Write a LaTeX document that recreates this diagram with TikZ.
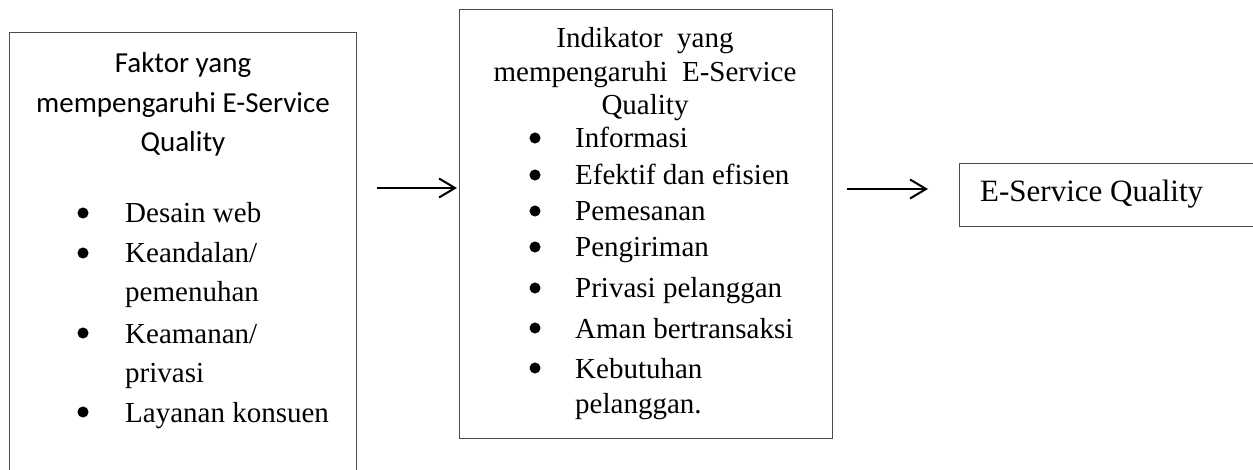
\documentclass[tikz,border=0pt]{standalone}
\usepackage{fontspec}
\setmainfont{Liberation Serif}
\newfontfamily\calibri{Carlito}
\usetikzlibrary{arrows.meta}

\tikzset{
  box/.style={draw=black!70, line width=1.3pt, anchor=north west, inner sep=0pt},
  line/.style={font=\fontsize{29}{34}\selectfont, anchor=base west, inner sep=0pt},
  titel/.style={font=\calibri\fontsize{29}{40}\selectfont, anchor=base, inner sep=0pt},
  kop/.style={font=\fontsize{29}{34}\selectfont, anchor=base, inner sep=0pt},
  dot/.style={circle, draw=black, fill=black, line width=1pt, inner sep=0pt, minimum size=10pt},
  arr/.style={line width=2pt, -{Straight Barb[length=16pt,width=19pt]}}
}

\begin{document}
\begin{tikzpicture}[x=1pt,y=-1pt]
\useasboundingbox (0,0) rectangle (1253,470);
\clip (0,0) rectangle (1253,470);

% boxes
\node[box, minimum width=347pt, minimum height=470pt] (faktor) at (9,32) {};
\node[box, minimum width=373pt, minimum height=429pt] (indikator) at (459,9) {};
\node[box, minimum width=320pt, minimum height=63pt] (eservice) at (959,163) {};

% faktor
\foreach \y/\t [count=\i] in {73/Faktor yang,113/mempengaruhi E-Service,152/Quality}
  \node[titel] (ft\i) at (183,\y) {\t};
\foreach \y/\t [count=\i] in {223/Desain web,263/{Keandalan/},302/pemenuhan,343/{Keamanan/},382/privasi,422/Layanan konsuen}
  \node[line] (fl\i) at (125,\y) {\t};
\foreach \y [count=\i] in {223,263,343,422}
  \node[dot] (fd\i) at (83,\y-10) {};

% indikator
\foreach \y/\t [count=\i] in {48/Indikator\ \ yang,82/mempengaruhi\ \ E-Service,115/Quality}
  \node[kop] (it\i) at (645,\y) {\t};
\foreach \y/\t [count=\i] in {148/Informasi,185/Efektif dan efisien,221/Pemesanan,257/Pengiriman,298/Privasi pelanggan,338/Aman bertransaksi,378/Kebutuhan,413/pelanggan.}
  \node[line] (il\i) at (575,\y) {\t};
\foreach \y [count=\i] in {148,185,221,257,298,338,378}
  \node[dot] (id\i) at (535,\y-10) {};

% e-service quality
\node[line, font=\fontsize{31}{36}\selectfont] (eq) at (980,202) {E-Service Quality};

% arrows
\coordinate (a1) at (377,188);
\coordinate (a2) at (847,189);
\coordinate (b2) at (928,189);
\draw[arr, shorten >=2pt] (a1) -- (a1 -| indikator.west);
\draw[arr] (a2) -- (b2);
\end{tikzpicture}
\end{document}
